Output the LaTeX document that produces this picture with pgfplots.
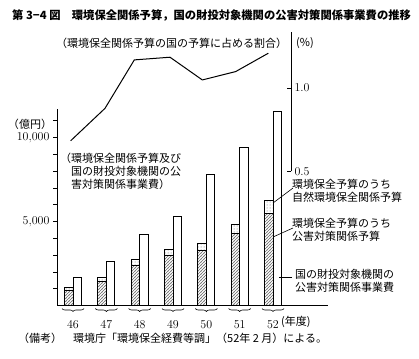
\documentclass[border=0pt]{standalone}
\usepackage{fontspec}
\setmainfont{Noto Sans CJK JP}
\usepackage{pgfplots}
\pgfplotsset{compat=1.18}
\usetikzlibrary{patterns,decorations.pathreplacing}
\newcommand{\tl}{\fontsize{12}{14}\selectfont}
\newcommand{\jt}{\fontsize{11}{13}\selectfont}
\begin{document}
\begin{tikzpicture}[x=1pt,y=1pt]
\useasboundingbox (0,0) rectangle (419,358);
\begin{axis}[
  at={(57pt,52.5pt)}, anchor=south west,
  scale only axis, width=271pt, height=196.6pt,
  xmin=45.52, xmax=53.65, ymin=0, ymax=11700,
  axis lines*=left,
  axis line style={line width=0.8pt},
  xtick={46,...,52},
  major x tick style={draw=none},
  xticklabel style={font=\tl, yshift=-8pt},
  ytick={5000,10000},
  yticklabels={$5{,}000$,$10{,}000$},
  scaled y ticks=false,
  minor ytick={1000,2000,3000,4000,6000,7000,8000,9000,11000},
  tick align=outside,
  major tick length=4pt, minor tick length=4pt,
  yticklabel style={font=\tl},
  tick style={line width=0.7pt, black},
  clip=false,
]
\addplot[ybar, bar width=8.5pt, bar shift=-4.25pt, draw=black, line width=0.7pt, pattern=dots, pattern color=black!60]
  coordinates {(46,1080) (47,1650) (48,2750) (49,3350) (50,3700) (51,4850) (52,6280)};
\addplot[ybar, bar width=8.5pt, bar shift=-4.25pt, draw=black, line width=0.7pt, pattern=north east lines, pattern color=black!60]
  coordinates {(46,920) (47,1420) (48,2410) (49,3010) (50,3260) (51,4300) (52,5490)};
\addplot[ybar, bar width=8.5pt, bar shift=4.25pt, draw=black, line width=0.7pt, fill=white]
  coordinates {(46,1680) (47,2610) (48,4260) (49,5330) (50,7830) (51,9420) (52,11580)};
\pgfplotsinvokeforeach{46,...,52}{
  \draw[line width=0.6pt, decorate, decoration={brace, mirror, amplitude=3pt}]
    ([yshift=-3pt]axis cs:#1-0.33,0) -- ([yshift=-3pt]axis cs:#1+0.33,0);
}
\end{axis}
\begin{axis}[
  at={(57pt,186.5pt)}, anchor=south west,
  scale only axis, width=234pt, height=139.5pt,
  xmin=45.52, xmax=52.54, ymin=0.5, ymax=1.335,
  axis x line=none, axis y line*=right,
  axis line style={line width=0.8pt},
  ytick={0.5,1.0},
  yticklabel style={font=\tl, /pgf/number format/fixed, /pgf/number format/fixed zerofill, /pgf/number format/precision=1},
  tick align=inside, major tick length=4pt,
  tick style={line width=0.7pt, black},
  clip=false,
]
\addplot[black, line width=1pt, mark=none]
  coordinates {(45.93,0.684) (46.96,0.878) (47.84,1.168) (48.91,1.184) (49.88,1.048) (50.88,1.098) (51.86,1.208)};
\end{axis}
% texts
\node[anchor=west, inner sep=0, font=\fontsize{11.3}{13}\selectfont\bfseries] at (12,343) {第 3−4 図\quad 環境保全関係予算，国の財投対象機関の公害対策関係事業費の推移};
\node[font=\jt, inner sep=0] at (171.5,315) {（環境保全関係予算の国の予算に占める割合）};
\node[font=\jt, inner sep=0] at (305,315) {(\%)};
\node[font=\jt, inner sep=0] at (30,234) {（億円）};
\node[font=\jt, anchor=north west, align=left, inner sep=0] at (60,205) {（環境保全関係予算及び\\\hspace*{1em}国の財投対象機関の公\\\hspace*{1em}害対策関係事業費）};
\node[font=\jt, anchor=west, align=left, inner sep=0] at (292,167) {環境保全予算のうち\\自然環境保全関係予算};
\node[font=\jt, anchor=west, align=left, inner sep=0] at (292,128.5) {環境保全予算のうち\\公害対策関係予算};
\node[font=\jt, anchor=west, align=left, inner sep=0] at (295,77.5) {国の財投対象機関の\\公害対策関係事業費};
\draw[line width=0.6pt] (293,170) -- (273,155);
\draw[line width=0.6pt] (293,130) -- (273,121);
\draw[line width=0.6pt] (292,81) -- (279,81);
\node[font=\jt, anchor=west, inner sep=0] at (281,36) {(年度)};
\node[font=\jt, anchor=west, inner sep=0] at (18,20) {（備考）\quad 環境庁「環境保全経費等調」（52年 2 月）による。};
\end{tikzpicture}
\end{document}
